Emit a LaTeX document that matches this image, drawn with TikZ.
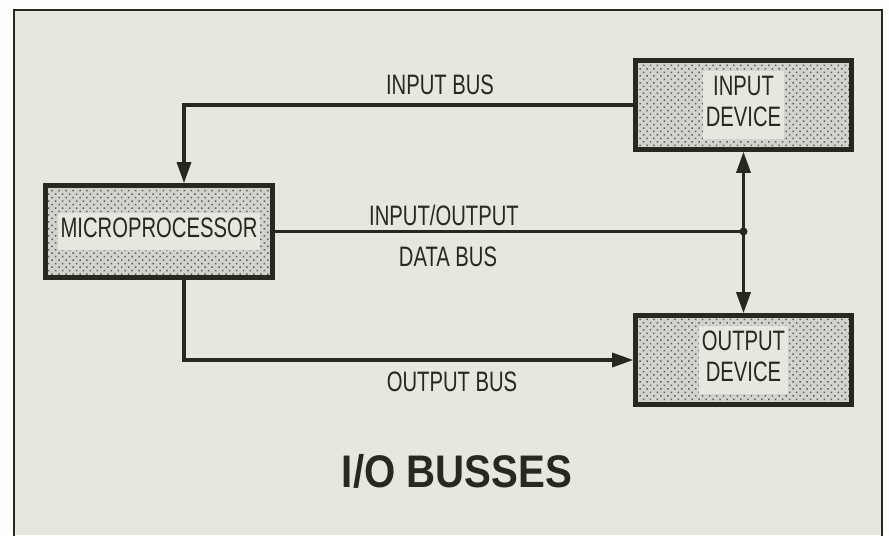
\documentclass[tikz,border=0pt]{standalone}
\usepackage{fontspec}
\setmainfont{Liberation Sans}[FakeStretch=0.72]
\newfontfamily\titlefont{Liberation Sans}[FakeStretch=0.88]
\usetikzlibrary{arrows.meta,calc,patterns.meta}
\definecolor{paper}{RGB}{232,231,223}
\definecolor{ink}{RGB}{40,40,32}
\tikzset{
	devbox/.style={draw=ink,line width=2.6pt,preaction={fill=paper!80!gray},
		pattern={Dots[angle=45,distance=2.8pt,radius=0.6pt]},pattern color=ink!75,
		minimum width=4.32cm,minimum height=1.78cm,inner sep=0pt,
		font=\fontsize{16}{20}\selectfont,text=ink},
	bus/.style={draw=ink,line width=1.8pt},
	buslabel/.style={text=ink,font=\fontsize{16}{19}\selectfont},
}
\newcommand{\boxtext}[1]{{\setlength{\fboxsep}{1.5pt}\renewcommand{\arraystretch}{0.88}%
	\colorbox{paper}{\begin{tabular}{@{}c@{}}#1\end{tabular}}}}
\begin{document}
\begin{tikzpicture}[x=0.02cm,y=-0.02cm,line join=miter,>={Triangle[length=0.42cm,width=0.28cm]}]
	\useasboundingbox (0,0) rectangle (889,535);
	% papier und rahmen
	\fill[white!94!paper] (0,0) rectangle (889,535);
	\fill[paper] (14,10) rectangle (882,535);
	\draw[ink,line width=1.3pt] (14,540) -- (14,10) -- (882,10) -- (882,540);
	% bausteine
	\node[devbox,minimum width=4.54cm,minimum height=1.84cm] (micro) at (159,231.5) {\boxtext{MICROPROCESSOR}};
	\node[devbox] (indev) at (743.5,105) {\boxtext{INPUT\\DEVICE}};
	\node[devbox] (outdev) at (743.5,360) {\boxtext{OUTPUT\\DEVICE}};
	% busse
	\coordinate (jn) at (indev.south |- micro.east);
	\draw[bus,->] (indev.west) -| ($(micro.north)+(25,0)$);
	\draw[bus,->] ($(micro.south)+(25,0)$) |- (outdev.west);
	\draw[bus] (micro.east) -- (jn);
	\draw[bus,->] (jn) -- (indev.south);
	\draw[bus,->] (jn) -- (outdev.north);
	\fill[ink] (jn) circle (0.08cm);
	% beschriftung
	\node[buslabel] (ibus) at (440,85) {INPUT BUS};
	\node[buslabel] (iobus) at (444,215) {INPUT/OUTPUT};
	\node[buslabel] (dbus) at (448,257) {DATA BUS};
	\node[buslabel] (obus) at (452,382) {OUTPUT BUS};
	\node[text=ink,font=\titlefont\bfseries\fontsize{26}{30}\selectfont] (title) at (457,471) {I/O BUSSES};
\end{tikzpicture}
\end{document}
